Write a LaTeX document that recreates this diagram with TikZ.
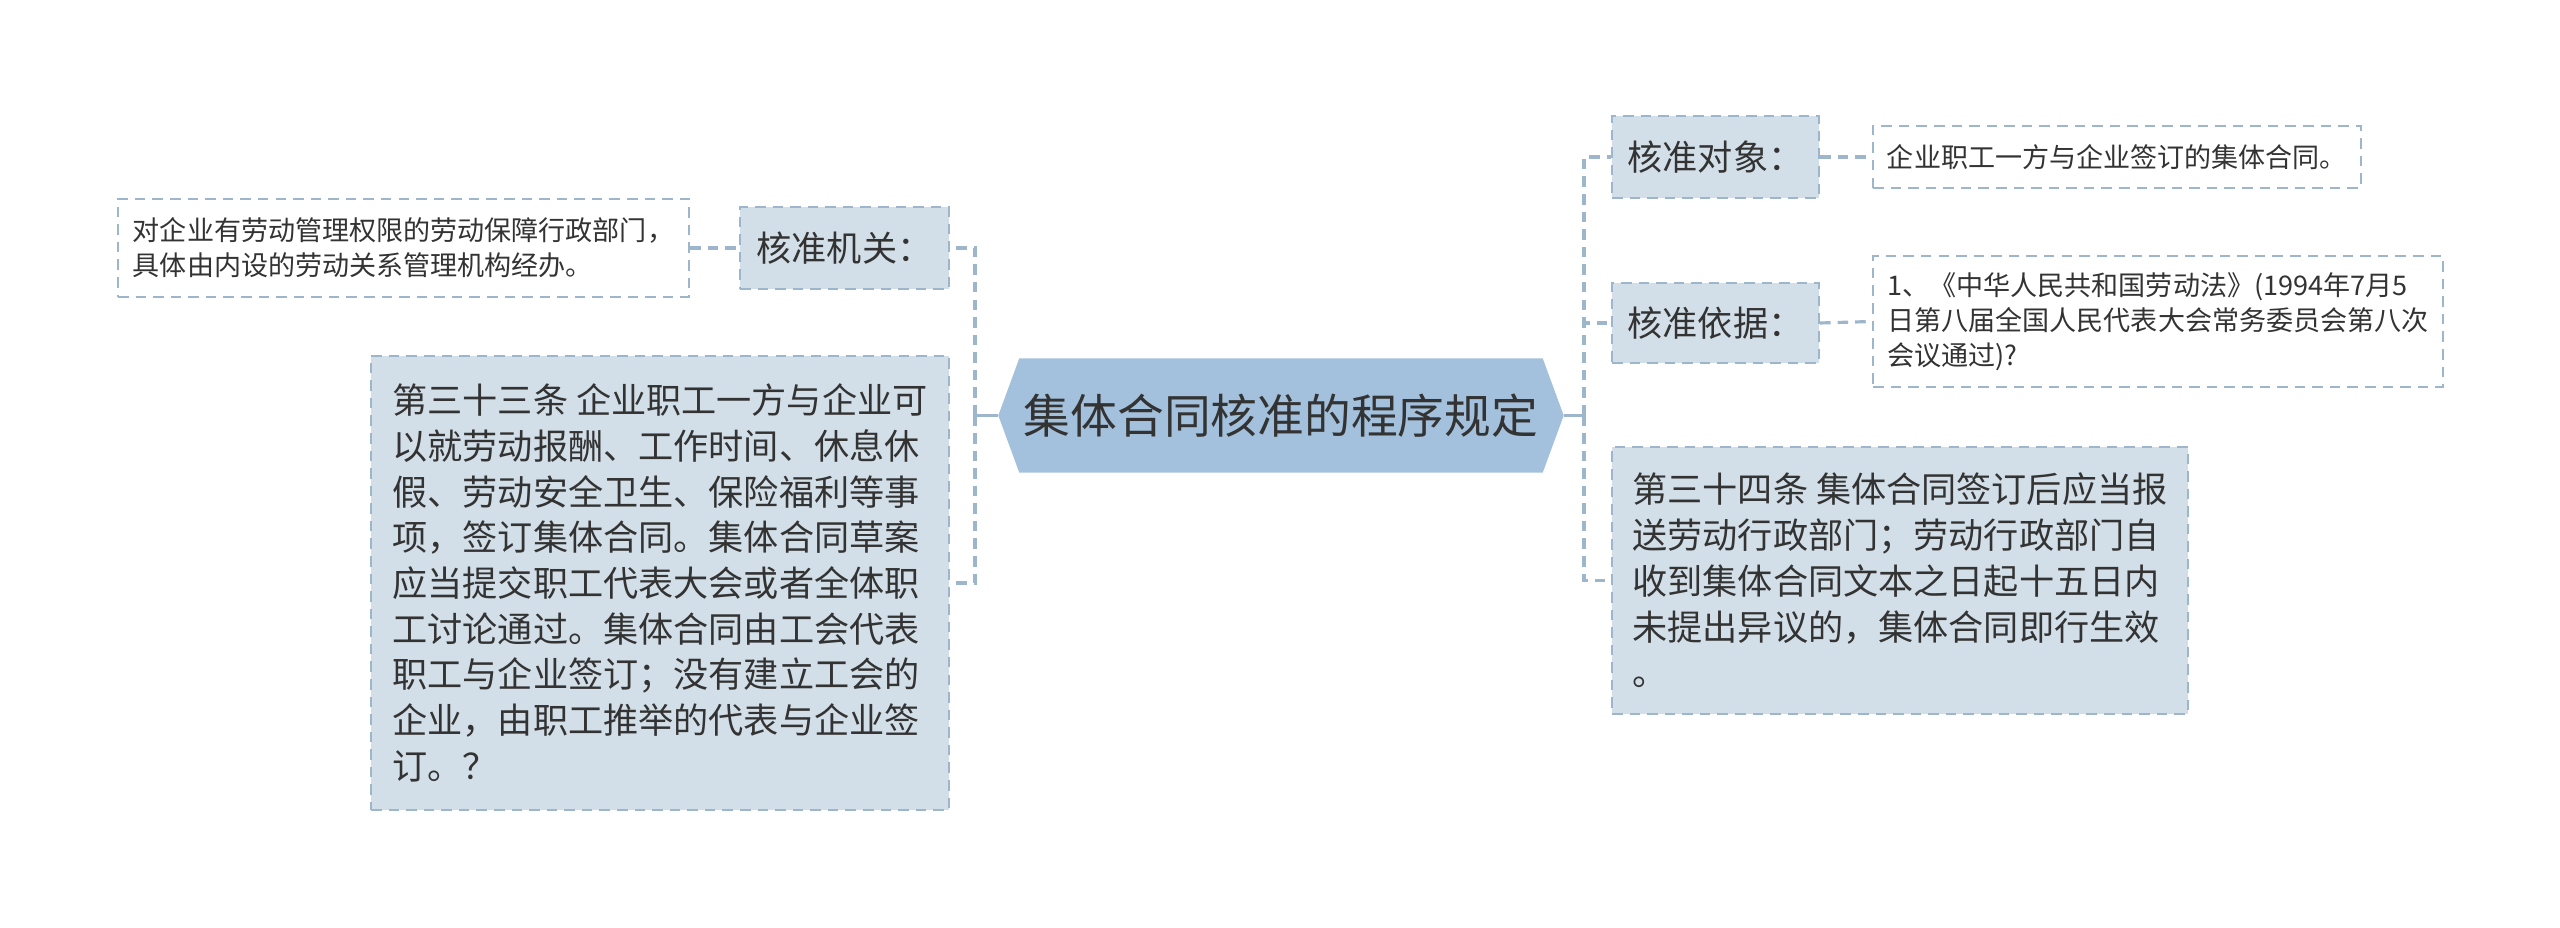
\documentclass[tikz,border=0pt]{standalone}
\usepackage{fontspec}
\newfontfamily\cjk{Noto Sans CJK SC}
\usetikzlibrary{positioning, backgrounds}
\definecolor{rootblue}{HTML}{A3C1DC}
\definecolor{boxfill}{HTML}{D3DFE8}
\definecolor{edgeblue}{HTML}{9DB6CC}
\definecolor{ink}{HTML}{333333}
\tikzset{
    rootnode/.style={
        minimum width=5.64cm,
        minimum height=1.13cm,
        inner sep=0pt,
        font=\cjk\fontsize{13.3}{16}\selectfont
    },
    topic/.style={
        draw=edgeblue,
        dash pattern=on 3pt off 2pt,
        line width=0.6pt,
        fill=boxfill,
        inner sep=0pt,
        font=\cjk\fontsize{10}{13}\selectfont
    },
    textbox/.style={
        topic,
        align=left,
        font=\cjk\fontsize{10}{13}\selectfont
    },
    leafnode/.style={
        draw=edgeblue,
        dash pattern=on 3pt off 2pt,
        line width=0.6pt,
        fill=white,
        inner sep=0pt,
        align=left,
        font=\cjk\fontsize{7.7}{10}\selectfont
    },
    link/.style={draw=edgeblue, line width=0.9pt, dash pattern=on 3pt off 2pt},
    stub/.style={draw=edgeblue, line width=0.9pt},
    every node/.style={text=ink}
}

\begin{document}
\begin{tikzpicture}
\useasboundingbox (0,0) rectangle (25.6,-9.28);

\node[rootnode] (root) at (12.81,-4.155) {集体合同核准的程序规定};
\begin{scope}[on background layer]
\fill[rootblue] (root.west) -- ([xshift=0.21cm]root.north west) -- ([xshift=-0.21cm]root.north east)
    -- (root.east) -- ([xshift=-0.21cm]root.south east) -- ([xshift=0.21cm]root.south west) -- cycle;
\end{scope}

% left side
\node[topic, minimum width=2.09cm, minimum height=0.82cm] (jg) at (8.445,-2.48) {核准机关：};
\node[leafnode, minimum width=5.71cm, minimum height=0.98cm] (jgleaf) at (4.035,-2.48)
    {对企业有劳动管理权限的劳动保障行政部门，\\具体由内设的劳动关系管理机构经办。};
\node[textbox, minimum width=5.78cm, minimum height=4.54cm] (art33) at (6.60,-5.83)
    {第三十三条 企业职工一方与企业可\\以就劳动报酬、工作时间、休息休\\假、劳动安全卫生、保险福利等事\\项，签订集体合同。集体合同草案\\应当提交职工代表大会或者全体职\\工讨论通过。集体合同由工会代表\\职工与企业签订；没有建立工会的\\企业，由职工推举的代表与企业签\\订。？};

% right side
\node[topic, minimum width=2.07cm, minimum height=0.82cm] (dx) at (17.155,-1.57) {核准对象：};
\node[leafnode, minimum width=4.88cm, minimum height=0.62cm] (dxleaf) at (21.17,-1.57)
    {企业职工一方与企业签订的集体合同。};
\node[topic, minimum width=2.07cm, minimum height=0.80cm] (yj) at (17.155,-3.23) {核准依据：};
\node[leafnode, minimum width=5.70cm, minimum height=1.31cm] (yjleaf) at (21.58,-3.215)
    {1、《中华人民共和国劳动法》(1994年7月5\\日第八届全国人民代表大会常务委员会第八次\\会议通过)?};
\node[textbox, minimum width=5.76cm, minimum height=2.67cm] (art34) at (19.0,-5.805)
    {第三十四条 集体合同签订后应当报\\送劳动行政部门；劳动行政部门自\\收到集体合同文本之日起十五日内\\未提出异议的，集体合同即行生效\\。};

% connectors
\coordinate (lt) at (9.75,-4.155);
\coordinate (rt) at (15.84,-4.155);
\draw[stub] (root.west) -- (lt);
\draw[stub] (root.east) -- (rt);
\draw[link] (lt) |- (jg.east);
\draw[link] (lt) |- (art33.east);
\draw[link] (jgleaf.east) -- (jg.west);
\draw[link] (rt) |- (dx.west);
\draw[link] (rt) |- (yj.west);
\draw[link] (rt) |- (art34.west);
\draw[link] (dx.east) -- (dxleaf.west);
\draw[link] (yj.east) -- (yjleaf.west);
\end{tikzpicture}
\end{document}
